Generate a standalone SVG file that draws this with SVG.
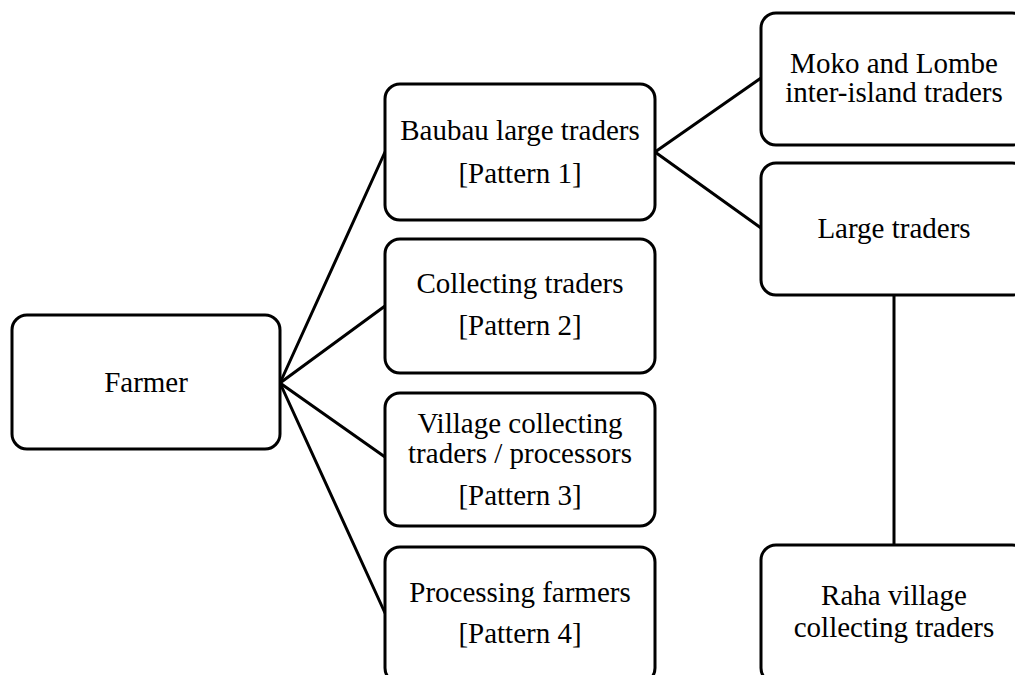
<svg xmlns="http://www.w3.org/2000/svg" width="1015" height="675" viewBox="0 0 1015 675">
<style>
.box{fill:#fff;stroke:#000;stroke-width:3}
.t{font-family:"Liberation Serif","Times New Roman",serif;font-size:29px;fill:#000;text-anchor:middle}
.c{stroke:#000;stroke-width:3;fill:none;stroke-linecap:round}
</style>
<rect width="1015" height="675" fill="#fff"/>
<g id="connectors">
<line class="c" x1="280" y1="383" x2="385" y2="152"/>
<line class="c" x1="280" y1="383" x2="385" y2="306"/>
<line class="c" x1="280" y1="383" x2="385" y2="457"/>
<line class="c" x1="280" y1="383" x2="385" y2="613"/>
<line class="c" x1="655" y1="152" x2="761" y2="78"/>
<line class="c" x1="655" y1="152" x2="761" y2="228"/>
<line class="c" x1="894" y1="295" x2="894" y2="545"/>
</g>
<g id="farmer">
<rect class="box" x="12" y="315" width="268" height="134" rx="15"/>
<text class="t" x="146" y="392">Farmer</text>
</g>
<g id="baubau">
<rect class="box" x="385" y="84" width="270" height="136" rx="15"/>
<text class="t" x="520" y="140">Baubau large traders</text>
<text class="t" x="520" y="183">[Pattern 1]</text>
</g>
<g id="collecting">
<rect class="box" x="385" y="239" width="270" height="134" rx="15"/>
<text class="t" x="520" y="293">Collecting traders</text>
<text class="t" x="520" y="335">[Pattern 2]</text>
</g>
<g id="village">
<rect class="box" x="385" y="393" width="270" height="133" rx="15"/>
<text class="t" x="520" y="433">Village collecting</text>
<text class="t" x="520" y="463">traders / processors</text>
<text class="t" x="520" y="505">[Pattern 3]</text>
</g>
<g id="processing">
<rect class="box" x="385" y="547" width="270" height="136" rx="15"/>
<text class="t" x="520" y="602">Processing farmers</text>
<text class="t" x="520" y="643">[Pattern 4]</text>
</g>
<g id="moko">
<rect class="box" x="761" y="13" width="266" height="132" rx="15"/>
<text class="t" x="894" y="73">Moko and Lombe</text>
<text class="t" x="894" y="102">inter-island traders</text>
</g>
<g id="large">
<rect class="box" x="761" y="163" width="266" height="132" rx="15"/>
<text class="t" x="894" y="238">Large traders</text>
</g>
<g id="raha">
<rect class="box" x="761" y="545" width="266" height="138" rx="15"/>
<text class="t" x="894" y="605">Raha village</text>
<text class="t" x="894" y="637">collecting traders</text>
</g>
</svg>
